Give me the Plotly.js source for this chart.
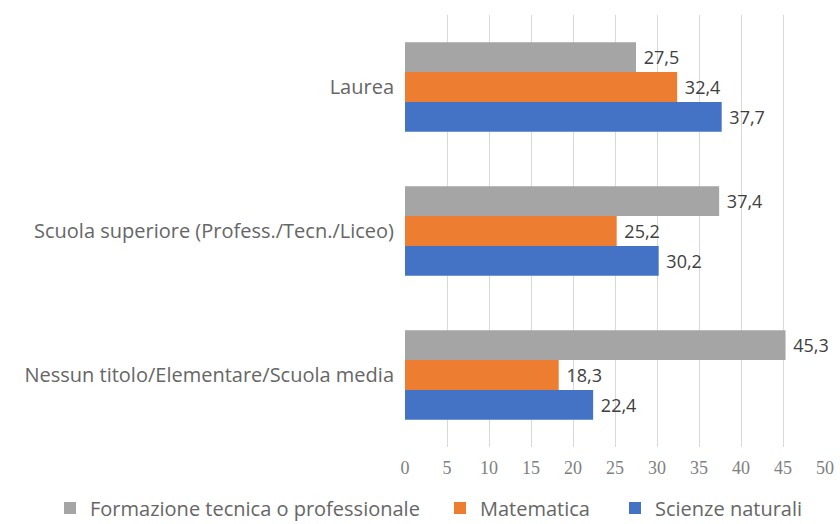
<!DOCTYPE html>
<html>
<head>
<meta charset="utf-8">
<script src="https://cdn.plot.ly/plotly-3.0.1.min.js"></script>
<style>body{margin:0;background:#fff}#chart{width:840px;height:524px}</style>
</head>
<body>
<div id="chart"></div>
<script>
const categories = ["Nessun titolo/Elementare/Scuola media", "Scuola superiore (Profess./Tecn./Liceo)", "Laurea"];
const formazione = [45.3, 37.4, 27.5];
const matematica = [18.3, 25.2, 32.4];
const scienze = [22.4, 30.2, 37.7];
const seriesNames = ["Formazione tecnica o professionale", "Matematica", "Scienze naturali"];
const tickVals = [0, 5, 10, 15, 20, 25, 30, 35, 40, 45, 50];

const labelFont = {family: "Open Sans, sans-serif", size: 18, color: "#404040"};
function mk(name, vals, color, leg) {
  return {
    type: "bar", orientation: "h", name: name, y: categories, x: vals,
    marker: {color: color}, legend: leg,
    text: vals, texttemplate: " %{x:.1f}", textposition: "outside",
    textfont: labelFont, cliponaxis: false, hoverinfo: "skip"
  };
}
const data = [
  mk(seriesNames[2], scienze, "#4472C4", "legend3"),
  mk(seriesNames[1], matematica, "#ED7D31", "legend2"),
  mk(seriesNames[0], formazione, "#A5A5A5", "legend")
];
const legFont = {family: "Open Sans, sans-serif", size: 20, color: "#666666"};
function leg(xpx) {
  return {
    orientation: "h", xref: "container", yref: "container",
    x: xpx / 840, xanchor: "left", y: 1 - 508 / 524, yanchor: "middle",
    itemwidth: 30, bgcolor: "rgba(0,0,0,0)", font: legFont
  };
}
const layout = {
  width: 840, height: 524,
  margin: {l: 405, r: 15, t: 15, b: 77, autoexpand: false},
  paper_bgcolor: "#fff", plot_bgcolor: "#fff",
  separators: ",.",
  barmode: "group", bargap: 0.38, bargroupgap: 0,
  xaxis: {
    range: [0, 50], tickvals: tickVals, showgrid: true, gridcolor: "#D9D9D9", gridwidth: 1,
    zeroline: false, showline: false, ticks: "", fixedrange: true, ticklabelstandoff: 8,
    tickfont: {family: "Liberation Serif, serif", size: 18, color: "#808080"}
  },
  yaxis: {
    type: "category", categoryorder: "array", categoryarray: categories,
    showgrid: false, zeroline: false, showline: false, ticks: "", ticklabelstandoff: 10,
    tickfont: {family: "Open Sans, sans-serif", size: 20, color: "#666666"}
  },
  showlegend: true,
  legend: leg(50),
  legend2: leg(440),
  legend3: leg(615)
};
Plotly.newPlot("chart", data, layout, {displayModeBar: false, staticPlot: true});
</script>
</body>
</html>
